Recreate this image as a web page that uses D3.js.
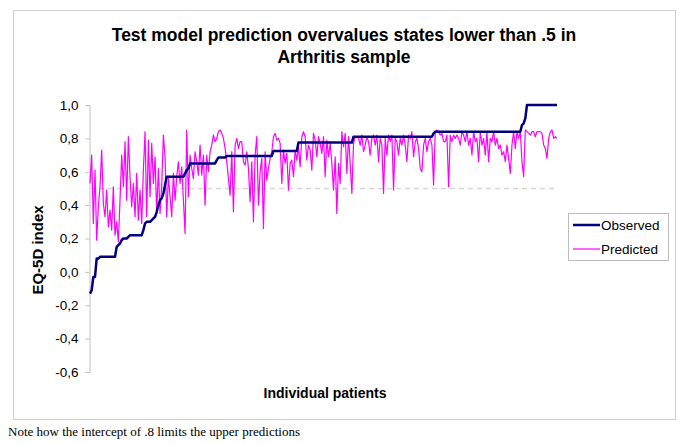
<!DOCTYPE html>
<html>
<head>
<meta charset="utf-8">
<script src="https://cdn.jsdelivr.net/npm/d3@7"></script>
<style>
  body { margin: 0; background: #fff; }
  svg { display: block; }
</style>
</head>
<body>
<svg id="chart" width="685" height="445"></svg>
<script>
// EQ-5D index per patient, patients sorted by observed value
let observed = [
    -0.13, -0.11, -0.03, -0.03, 0.08, 0.08,
    0.09, 0.09, 0.09, 0.09, 0.09, 0.09, 0.09, 0.09, 0.09, 0.09,
    0.15, 0.16, 0.17, 0.19, 0.20, 0.20, 0.20, 0.21, 0.22,
    0.22, 0.22, 0.22, 0.22, 0.22, 0.22, 0.22,
    0.25, 0.29, 0.30, 0.30, 0.30, 0.31, 0.32, 0.33, 0.36, 0.40, 0.43, 0.44, 0.47, 0.52,
    0.57, 0.57, 0.57, 0.57, 0.57, 0.57, 0.57, 0.57, 0.57, 0.57, 0.57,
    0.59, 0.61, 0.62, 0.65,
    0.65, 0.65, 0.65, 0.65, 0.65, 0.65, 0.65, 0.65, 0.65, 0.65, 0.65, 0.65, 0.65, 0.65, 0.65,
    0.67,
    0.685, 0.685, 0.685, 0.685, 0.685,
    0.695, 0.695, 0.695, 0.695, 0.695, 0.695, 0.695, 0.695, 0.695, 0.695,
    0.695, 0.695, 0.695, 0.695, 0.695, 0.695, 0.695, 0.695, 0.695, 0.695,
    0.695, 0.695, 0.695, 0.695, 0.695, 0.695, 0.695, 0.695,
    0.725, 0.725, 0.725, 0.725, 0.725, 0.725, 0.725, 0.725, 0.725, 0.725,
    0.725, 0.725, 0.725, 0.725, 0.725,
    0.775, 0.775, 0.775, 0.775, 0.775, 0.775, 0.775, 0.775, 0.775, 0.775, 0.775,
    0.775, 0.775, 0.775, 0.775, 0.775, 0.775, 0.775, 0.775, 0.775, 0.775, 0.775,
    0.775, 0.775, 0.775, 0.775, 0.775, 0.775, 0.775, 0.775, 0.775, 0.775, 0.775,
    0.81, 0.81, 0.81, 0.81, 0.81, 0.81, 0.81, 0.81, 0.81, 0.81, 0.81, 0.81,
    0.81, 0.81, 0.81, 0.81, 0.81, 0.81, 0.81, 0.81, 0.81, 0.81, 0.81, 0.81,
    0.81, 0.81, 0.81, 0.81, 0.81, 0.81, 0.81, 0.81, 0.81, 0.81, 0.81, 0.81,
    0.81, 0.81, 0.81, 0.81, 0.81, 0.81, 0.81, 0.81, 0.81, 0.81, 0.81, 0.81,
    0.83,
    0.84, 0.84, 0.84, 0.84, 0.84, 0.84, 0.84, 0.84, 0.84, 0.84, 0.84, 0.84, 0.84,
    0.84, 0.84, 0.84, 0.84, 0.84, 0.84, 0.84, 0.84, 0.84, 0.84, 0.84, 0.84, 0.84,
    0.84, 0.84, 0.84, 0.84, 0.84, 0.84, 0.84, 0.84, 0.84, 0.84, 0.84, 0.84, 0.84,
    0.84, 0.84, 0.84, 0.84, 0.84, 0.84, 0.84, 0.84, 0.84, 0.84, 0.84, 0.84, 0.84,
    0.88, 0.89, 0.92,
    1.0, 1.0, 1.0, 1.0, 1.0, 1.0, 1.0, 1.0, 1.0, 1.0,
    1.0, 1.0, 1.0, 1.0, 1.0, 1.0, 1.0, 1.0, 1.0
];

let predicted = [
    0.53, 0.70, 0.29, 0.61, 0.19, 0.39, 0.51, 0.73, 0.41, 0.33,
    0.49, 0.27, 0.37, 0.25, 0.51, 0.22, 0.30, 0.18, 0.43, 0.70,
    0.51, 0.78, 0.43, 0.81, 0.57, 0.39, 0.53, 0.33, 0.59, 0.31,
    0.49, 0.29, 0.61, 0.84, 0.33, 0.79, 0.45, 0.77, 0.53, 0.69,
    0.35, 0.62, 0.35, 0.52, 0.82, 0.69, 0.33, 0.57, 0.45, 0.33,
    0.59, 0.43, 0.57, 0.66, 0.53, 0.63, 0.43, 0.23, 0.85, 0.45,
    0.70, 0.62, 0.56, 0.72, 0.66, 0.58, 0.76, 0.58, 0.70, 0.40,
    0.70, 0.60, 0.72, 0.76, 0.82, 0.78, 0.80, 0.84, 0.85, 0.83,
    0.80, 0.74, 0.66, 0.56, 0.46, 0.72, 0.36, 0.76, 0.80, 0.74,
    0.78, 0.78, 0.66, 0.64, 0.72, 0.62, 0.42, 0.66, 0.30, 0.70,
    0.81, 0.40, 0.60, 0.68, 0.26, 0.72, 0.55, 0.62, 0.68, 0.72,
    0.81, 0.83, 0.79, 0.80, 0.77, 0.53, 0.73, 0.65, 0.71, 0.49,
    0.65, 0.67, 0.57, 0.73, 0.67, 0.75, 0.63, 0.81, 0.84, 0.81,
    0.67, 0.76, 0.73, 0.61, 0.83, 0.79, 0.69, 0.81, 0.77, 0.71,
    0.81, 0.57, 0.79, 0.69, 0.77, 0.65, 0.49, 0.69, 0.35, 0.65,
    0.53, 0.84, 0.75, 0.83, 0.59, 0.81, 0.65, 0.47, 0.77, 0.81,
    0.81, 0.80, 0.76, 0.82, 0.72, 0.76, 0.81, 0.78, 0.70, 0.80,
    0.82, 0.76, 0.82, 0.66, 0.80, 0.76, 0.47, 0.80, 0.70, 0.82,
    0.78, 0.82, 0.49, 0.80, 0.78, 0.70, 0.80, 0.76, 0.82, 0.76,
    0.66, 0.82, 0.80, 0.84, 0.69, 0.78, 0.80, 0.74, 0.62, 0.60,
    0.76, 0.80, 0.72, 0.78, 0.80, 0.76, 0.52, 0.84, 0.85, 0.84,
    0.82, 0.83, 0.78, 0.78, 0.82, 0.51, 0.82, 0.78, 0.82, 0.80,
    0.82, 0.80, 0.76, 0.84, 0.82, 0.78, 0.84, 0.76, 0.80, 0.70,
    0.84, 0.78, 0.80, 0.66, 0.84, 0.76, 0.80, 0.70, 0.84, 0.66,
    0.80, 0.78, 0.84, 0.76, 0.80, 0.74, 0.76, 0.70, 0.72, 0.66,
    0.76, 0.68, 0.59, 0.76, 0.84, 0.74, 0.84, 0.80, 0.84, 0.66,
    0.57, 0.85, 0.84, 0.83, 0.82, 0.84, 0.84, 0.81, 0.84, 0.84,
    0.84, 0.83, 0.76, 0.74, 0.68, 0.80, 0.84, 0.85, 0.80, 0.81, 0.80
];

let yTicks = [-0.6, -0.4, -0.2, 0.0, 0.2, 0.4, 0.6, 0.8, 1.0];
let cutoff = 0.5;

let seriesNames = ["Observed", "Predicted"];
let seriesColors = ["#000080", "#ff00ff"];

let svg = d3.select("#chart");
let font = "'Liberation Sans', Arial, sans-serif";

// outer chart frame
svg.append("rect")
    .attr("x", 13.5).attr("y", 10.5)
    .attr("width", 662).attr("height", 409)
    .attr("fill", "#fff")
    .attr("stroke", "#d0d0d0");

let x = d3.scaleLinear()
    .domain([0, observed.length - 1])
    .range([90, 557]);

let y = d3.scaleLinear()
    .domain([-0.6, 1.0])
    .range([372, 105]);

// y axis with comma decimals
let yAxis = svg.append("g")
    .attr("transform", "translate(89.5,0)")
    .call(d3.axisLeft(y)
        .tickValues(yTicks)
        .tickSize(4)
        .tickPadding(7)
        .tickFormat(function (d) { return d.toFixed(1).replace(".", ","); }));

yAxis.select(".domain").attr("stroke", "#c0c0c0");
yAxis.selectAll(".tick line").attr("stroke", "#c0c0c0");
yAxis.selectAll(".tick text")
    .attr("fill", "#000")
    .style("font-family", font)
    .style("font-size", "13.5px");

// dashed reference line at .5
svg.append("line")
    .attr("x1", x(0)).attr("x2", x(observed.length - 1))
    .attr("y1", y(cutoff)).attr("y2", y(cutoff))
    .attr("stroke", "#d6d6d6")
    .attr("stroke-width", 1.5)
    .attr("stroke-dasharray", "5,4");

let line = d3.line()
    .x(function (d, i) { return x(i); })
    .y(function (d) { return y(d); });

svg.append("path")
    .datum(predicted)
    .attr("d", line)
    .attr("fill", "none")
    .attr("stroke", seriesColors[1])
    .attr("stroke-width", 1.2)
    .attr("stroke-linejoin", "round");

svg.append("path")
    .datum(observed)
    .attr("d", line)
    .attr("fill", "none")
    .attr("stroke", seriesColors[0])
    .attr("stroke-width", 2.5)
    .attr("stroke-linejoin", "round");

// titles
let title = svg.append("text")
    .attr("text-anchor", "middle")
    .style("font-family", font)
    .style("font-weight", "bold")
    .style("font-size", "17.5px");
title.append("tspan").attr("x", 344).attr("y", 41)
    .text("Test model prediction overvalues states lower than .5 in");
title.append("tspan").attr("x", 344).attr("y", 63)
    .text("Arthritis sample");

svg.append("text")
    .attr("transform", "translate(43,250) rotate(-90)")
    .attr("text-anchor", "middle")
    .style("font-family", font)
    .style("font-weight", "bold")
    .style("font-size", "15px")
    .text("EQ-5D index");

svg.append("text")
    .attr("x", 325).attr("y", 398)
    .attr("text-anchor", "middle")
    .style("font-family", font)
    .style("font-weight", "bold")
    .style("font-size", "14px")
    .text("Individual patients");

// legend
let legend = svg.append("g");
legend.append("rect")
    .attr("x", 568.5).attr("y", 213.5)
    .attr("width", 100).attr("height", 47)
    .attr("fill", "#fff")
    .attr("stroke", "#bdbdbd");

seriesNames.forEach(function (name, i) {
    let ly = 225 + i * 24;
    legend.append("line")
        .attr("x1", 573).attr("x2", 600)
        .attr("y1", ly).attr("y2", ly)
        .attr("stroke", seriesColors[i])
        .attr("stroke-width", i === 0 ? 2.5 : 1.2);
    legend.append("text")
        .attr("x", 601).attr("y", ly + 5)
        .style("font-family", font)
        .style("font-size", "13.5px")
        .text(name);
});

// caption under the chart
svg.append("text")
    .attr("x", 8).attr("y", 436)
    .attr("textLength", 292)
    .attr("lengthAdjust", "spacingAndGlyphs")
    .style("font-family", "'Liberation Serif', 'Times New Roman', serif")
    .style("font-size", "12.5px")
    .text("Note how the intercept of .8 limits the upper predictions");
</script>
</body>
</html>
